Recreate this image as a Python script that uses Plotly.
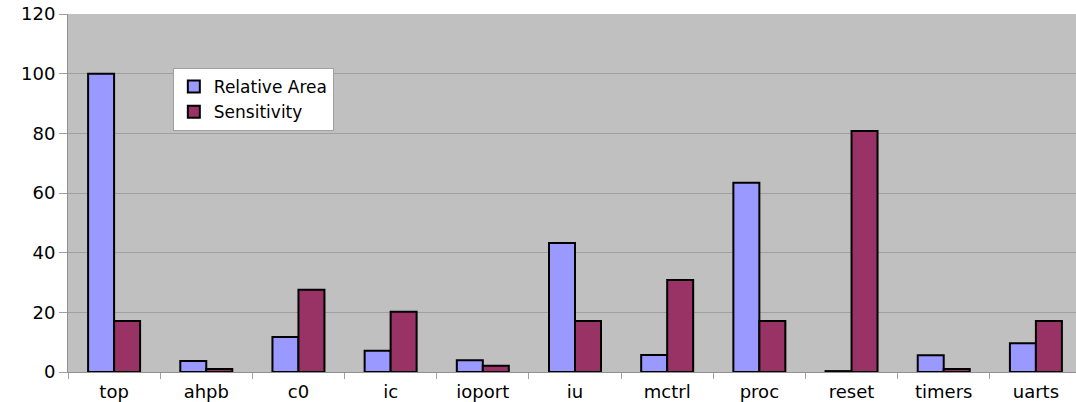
import plotly.graph_objects as go

categories = ["top", "ahpb", "c0", "ic", "ioport", "iu", "mctrl", "proc", "reset", "timers", "uarts"]
relative_area = [100, 3.7, 11.7, 7.1, 3.9, 43.2, 5.7, 63.4, 0.3, 5.6, 9.6]
sensitivity = [17.1, 1.0, 27.6, 20.2, 2.1, 17.1, 30.8, 17.1, 80.8, 1.0, 17.1]
y_ticks = [0, 20, 40, 60, 80, 100, 120]

FONT = "DejaVu Sans"

fig = go.Figure()
fig.add_trace(go.Bar(x=categories, y=relative_area, name="Relative Area",
                     marker=dict(color="#9999FF", line=dict(color="black", width=2))))
fig.add_trace(go.Bar(x=categories, y=sensitivity, name="Sensitivity",
                     marker=dict(color="#993366", line=dict(color="black", width=2))))

fig.update_layout(
    width=1076, height=402,
    margin=dict(l=68, r=0, t=14, b=30),
    paper_bgcolor="white",
    plot_bgcolor="#C0C0C0",
    barmode="group",
    bargap=0.436,
    bargroupgap=0,
    font=dict(family=FONT, size=18, color="black"),
    legend=dict(x=0.104, y=0.849, xanchor="left", yanchor="top",
                bgcolor="white", bordercolor="#A0A0A0", borderwidth=1,
                font=dict(family=FONT, size=17, color="black"),
                tracegroupgap=0, itemwidth=30),
    showlegend=True,
)
fig.update_xaxes(
    range=[-0.5, 10.435],
    showgrid=False,
    showline=True, linecolor="#909090", linewidth=1,
    ticks="outside", tickson="boundaries", ticklen=6, tickcolor="#A0A0A0",
    ticklabelstandoff=3,
    tickfont=dict(family=FONT, size=18, color="black"),
)
fig.update_yaxes(
    range=[0, 120],
    tickvals=y_ticks,
    showgrid=True, gridcolor="#A0A0A0", gridwidth=1,
    showline=True, linecolor="#909090", linewidth=1,
    ticks="outside", ticklen=8, tickcolor="#A0A0A0",
    tickfont=dict(family=FONT, size=18, color="black"),
    zeroline=False,
)

fig.write_html("out.html")
